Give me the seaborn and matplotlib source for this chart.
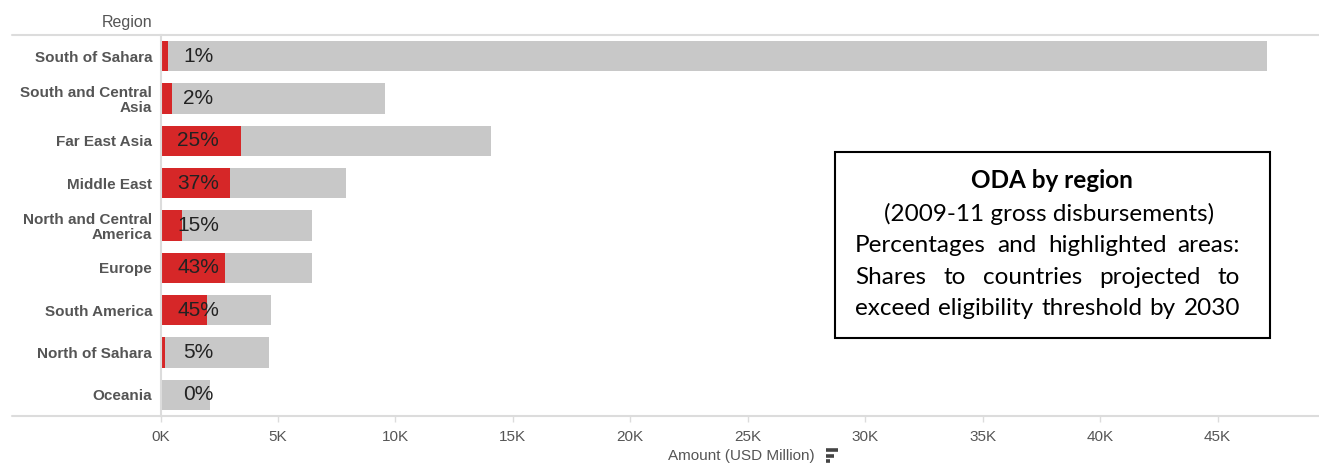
import numpy as np
import pandas as pd
import seaborn as sns
import matplotlib.pyplot as plt
from matplotlib.lines import Line2D
from matplotlib.patches import Rectangle
from matplotlib.transforms import IdentityTransform

# ---- data (USD million) ----
regions = ['South of Sahara', 'South and Central\nAsia', 'Far East Asia', 'Middle East',
           'North and Central\nAmerica', 'Europe', 'South America', 'North of Sahara', 'Oceania']
total_amount = [47100, 9560, 14070, 7900, 6460, 6460, 4700, 4610, 2110]
share_amount = [310, 490, 3410, 2970, 930, 2730, 1980, 190, 0]
share_pct = ['1%', '2%', '25%', '37%', '15%', '43%', '45%', '5%', '0%']

box_lines = ['ODA by region',
             '(2009-11 gross disbursements)',
             'Percentages and highlighted areas:',
             'Shares to countries projected to',
             'exceed eligibility threshold by 2030']

df = pd.DataFrame({'Region': regions, 'Total': total_amount,
                   'Share': share_amount, 'Pct': share_pct})

W, H = 1319, 470
GRAY_LINE = '#dcdcdc'
TXT = '#555555'

sns.set_theme(style='white')
plt.rcParams['font.family'] = ['Liberation Sans', 'DejaVu Sans']

fig = plt.figure(figsize=(W / 100, H / 100), dpi=100)
ax = fig.add_axes([160.5 / W, (H - 416) / H, (W - 160.5) / W, 381 / H])

sns.barplot(data=df, x='Total', y='Region', order=regions, orient='h', color='#c8c8c8',
            saturation=1, width=0.71, linewidth=0, ax=ax)
sns.barplot(data=df, x='Share', y='Region', order=regions, orient='h', color='#d62728',
            saturation=1, width=0.71, linewidth=0, ax=ax)

# percentage labels
for i, p in enumerate(df['Pct']):
    ax.text(1600, i, p, ha='center', va='center', fontsize=15, color='#222222')

ax.set_xlim(0, 49320)
ax.set_ylim(len(regions) - 0.5, -0.5)
ax.set_xticks(np.arange(0, 50000, 5000))
ax.set_xticklabels([f'{int(v / 1000)}K' for v in np.arange(0, 50000, 5000)])
ax.tick_params(axis='x', length=4, width=1, color=GRAY_LINE, labelsize=11,
               labelcolor=TXT, pad=6, bottom=True)
ax.tick_params(axis='y', length=0, pad=6, labelsize=11)
for lab in ax.get_yticklabels():
    lab.set_color(TXT)
    lab.set_fontweight('bold')
    lab.set_linespacing(1.1)
ax.set_xlabel('')
ax.set_ylabel('')
for s in ['top', 'right', 'bottom']:
    ax.spines[s].set_visible(False)
ax.spines['left'].set_color(GRAY_LINE)
ax.spines['left'].set_linewidth(1.5)

# header line, axis line
fig.add_artist(Line2D([12 / W, 1], [1 - 35 / H] * 2, color=GRAY_LINE, lw=1.5))
fig.add_artist(Line2D([12 / W, 1], [1 - 416 / H] * 2, color=GRAY_LINE, lw=1.5))
fig.text(152 / W, 1 - 23 / H, 'Region', ha='right', va='center', fontsize=11.5, color=TXT)

# axis title with sort icon
fig.text(741 / W, 1 - 456 / H, 'Amount (USD Million)', ha='center', va='center',
         fontsize=11, color=TXT)
for yy, x1 in [(450, 838), (455.5, 834), (461, 830)]:
    fig.add_artist(Line2D([826 / W, x1 / W], [1 - yy / H] * 2, color='#444444', lw=2.6,
                          solid_capstyle='butt'))

# annotation box
fig.add_artist(Rectangle((835 / W, 1 - 338 / H), 435 / W, 186 / H, transform=fig.transFigure,
                         facecolor='white', edgecolor='black', lw=1.5, zorder=5))
box_font = dict(family=['Lato', 'DejaVu Sans'], fontsize=17.5, color='black', zorder=6)
ys = [181, 214, 245.5, 277, 308.5]
fig.text(1052 / W, 1 - ys[0] / H, box_lines[0], ha='center', va='center', fontweight='bold', **box_font)
fig.text(1049 / W, 1 - ys[1] / H, box_lines[1], ha='center', va='center', **box_font)

fig.canvas.draw()
renderer = fig.canvas.get_renderer()
x_left, x_right = 855, 1240
for line, yy in zip(box_lines[2:], ys[2:]):
    words = line.split(' ')
    txts = [fig.text(0, H - yy, w, transform=IdentityTransform(), ha='left', va='center', **box_font)
            for w in words]
    widths = [t.get_window_extent(renderer).width for t in txts]
    gap = (x_right - x_left - sum(widths)) / (len(words) - 1)
    x = x_left
    for t, w in zip(txts, widths):
        t.set_x(x)
        x += w + gap

fig.savefig('out.png', dpi=100)
